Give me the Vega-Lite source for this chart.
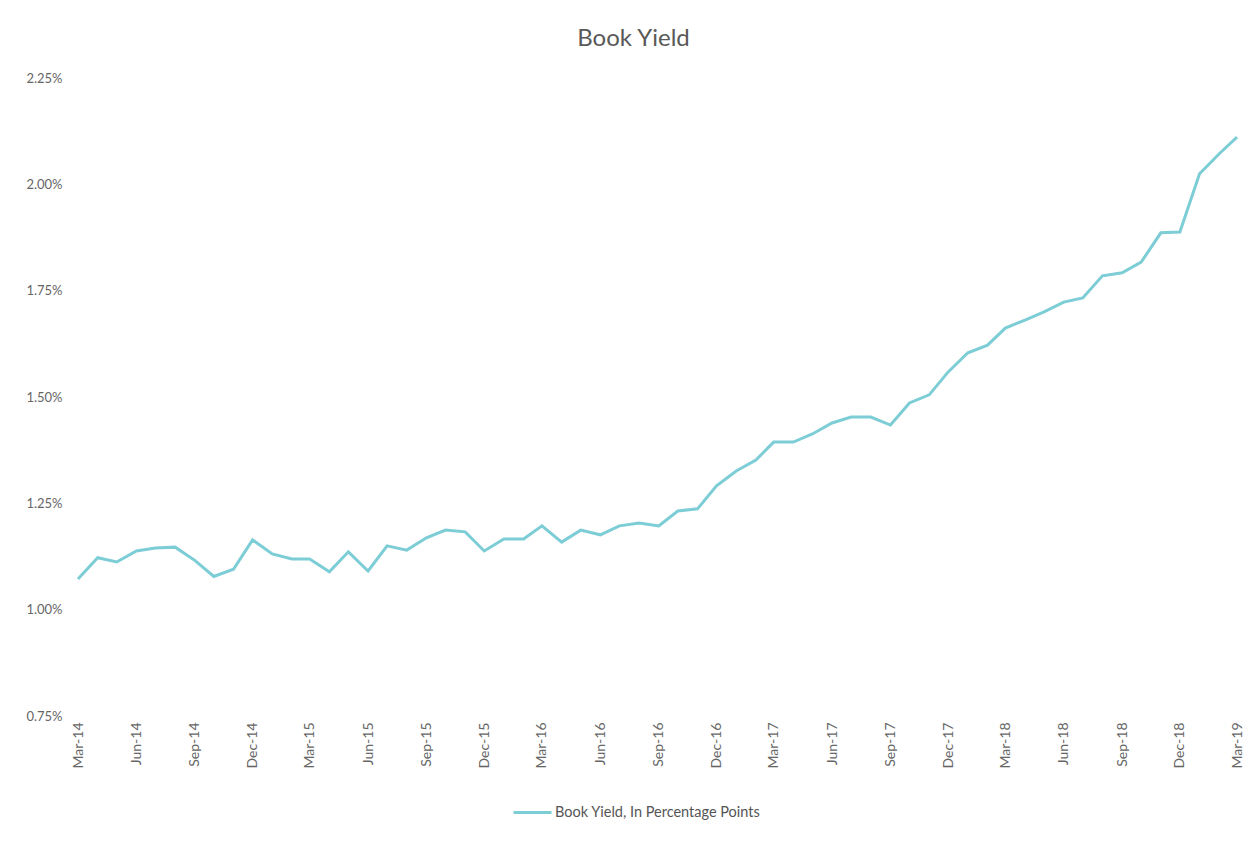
{
  "$schema": "https://vega.github.io/schema/vega-lite/v6.json",
  "width": 1159,
  "height": 638,
  "autosize": {"type": "none"},
  "padding": {"left": 78, "top": 78, "right": 23, "bottom": 126},
  "background": "white",
  "config": {
    "view": {"stroke": null},
    "font": "Lato"
  },
  "title": {
    "text": "Book Yield",
    "fontSize": 24,
    "fontWeight": "normal",
    "color": "#595959",
    "anchor": "middle",
    "dx": -24,
    "offset": 21
  },
  "data": {
    "values": [
      {"date": "2014-03-01", "yield": 1.072},
      {"date": "2014-04-01", "yield": 1.122},
      {"date": "2014-05-01", "yield": 1.112},
      {"date": "2014-06-01", "yield": 1.138},
      {"date": "2014-07-01", "yield": 1.145},
      {"date": "2014-08-01", "yield": 1.147},
      {"date": "2014-09-01", "yield": 1.116},
      {"date": "2014-10-01", "yield": 1.078},
      {"date": "2014-11-01", "yield": 1.095},
      {"date": "2014-12-01", "yield": 1.164},
      {"date": "2015-01-01", "yield": 1.131},
      {"date": "2015-02-01", "yield": 1.119},
      {"date": "2015-03-01", "yield": 1.119},
      {"date": "2015-04-01", "yield": 1.089},
      {"date": "2015-05-01", "yield": 1.136},
      {"date": "2015-06-01", "yield": 1.091},
      {"date": "2015-07-01", "yield": 1.150},
      {"date": "2015-08-01", "yield": 1.140},
      {"date": "2015-09-01", "yield": 1.169},
      {"date": "2015-10-01", "yield": 1.187},
      {"date": "2015-11-01", "yield": 1.183},
      {"date": "2015-12-01", "yield": 1.138},
      {"date": "2016-01-01", "yield": 1.166},
      {"date": "2016-02-01", "yield": 1.166},
      {"date": "2016-03-01", "yield": 1.197},
      {"date": "2016-04-01", "yield": 1.159},
      {"date": "2016-05-01", "yield": 1.187},
      {"date": "2016-06-01", "yield": 1.176},
      {"date": "2016-07-01", "yield": 1.197},
      {"date": "2016-08-01", "yield": 1.204},
      {"date": "2016-09-01", "yield": 1.197},
      {"date": "2016-10-01", "yield": 1.232},
      {"date": "2016-11-01", "yield": 1.237},
      {"date": "2016-12-01", "yield": 1.291},
      {"date": "2017-01-01", "yield": 1.326},
      {"date": "2017-02-01", "yield": 1.352},
      {"date": "2017-03-01", "yield": 1.394},
      {"date": "2017-04-01", "yield": 1.394},
      {"date": "2017-05-01", "yield": 1.413},
      {"date": "2017-06-01", "yield": 1.439},
      {"date": "2017-07-01", "yield": 1.453},
      {"date": "2017-08-01", "yield": 1.453},
      {"date": "2017-09-01", "yield": 1.434},
      {"date": "2017-10-01", "yield": 1.486},
      {"date": "2017-11-01", "yield": 1.505},
      {"date": "2017-12-01", "yield": 1.559},
      {"date": "2018-01-01", "yield": 1.604},
      {"date": "2018-02-01", "yield": 1.622},
      {"date": "2018-03-01", "yield": 1.662},
      {"date": "2018-04-01", "yield": 1.681},
      {"date": "2018-05-01", "yield": 1.700},
      {"date": "2018-06-01", "yield": 1.723},
      {"date": "2018-07-01", "yield": 1.733},
      {"date": "2018-08-01", "yield": 1.785},
      {"date": "2018-09-01", "yield": 1.792},
      {"date": "2018-10-01", "yield": 1.817},
      {"date": "2018-11-01", "yield": 1.886},
      {"date": "2018-12-01", "yield": 1.888},
      {"date": "2019-01-01", "yield": 2.025},
      {"date": "2019-02-01", "yield": 2.072},
      {"date": "2019-03-01", "yield": 2.111}
    ]
  },
  "mark": {"type": "line", "strokeWidth": 3, "interpolate": "linear"},
  "encoding": {
    "x": {
      "field": "date",
      "type": "temporal",
      "scale": {
        "type": "utc",
        "domain": [
          {"year": 2014, "month": 3, "date": 1, "utc": true},
          {"year": 2019, "month": 3, "date": 1, "utc": true}
        ],
        "nice": false
      },
      "axis": {
        "title": null,
        "values": [
          {"year": 2014, "month": 3, "date": 1, "utc": true},
          {"year": 2014, "month": 6, "date": 1, "utc": true},
          {"year": 2014, "month": 9, "date": 1, "utc": true},
          {"year": 2014, "month": 12, "date": 1, "utc": true},
          {"year": 2015, "month": 3, "date": 1, "utc": true},
          {"year": 2015, "month": 6, "date": 1, "utc": true},
          {"year": 2015, "month": 9, "date": 1, "utc": true},
          {"year": 2015, "month": 12, "date": 1, "utc": true},
          {"year": 2016, "month": 3, "date": 1, "utc": true},
          {"year": 2016, "month": 6, "date": 1, "utc": true},
          {"year": 2016, "month": 9, "date": 1, "utc": true},
          {"year": 2016, "month": 12, "date": 1, "utc": true},
          {"year": 2017, "month": 3, "date": 1, "utc": true},
          {"year": 2017, "month": 6, "date": 1, "utc": true},
          {"year": 2017, "month": 9, "date": 1, "utc": true},
          {"year": 2017, "month": 12, "date": 1, "utc": true},
          {"year": 2018, "month": 3, "date": 1, "utc": true},
          {"year": 2018, "month": 6, "date": 1, "utc": true},
          {"year": 2018, "month": 9, "date": 1, "utc": true},
          {"year": 2018, "month": 12, "date": 1, "utc": true},
          {"year": 2019, "month": 3, "date": 1, "utc": true}
        ],
        "format": "%b-%y",
        "labelAngle": -90,
        "labelFontSize": 14,
        "labelColor": "#666666",
        "labelPadding": 6,
        "labelOverlap": false,
        "labelFlush": false,
        "ticks": false,
        "domain": false,
        "grid": false
      }
    },
    "y": {
      "field": "yield",
      "type": "quantitative",
      "scale": {"domain": [0.75, 2.25], "nice": false, "zero": false},
      "axis": {
        "title": null,
        "values": [0.75, 1.0, 1.25, 1.5, 1.75, 2.0, 2.25],
        "labelExpr": "format(datum.value, '.2f') + '%'",
        "labelFontSize": 13,
        "labelColor": "#666666",
        "labelPadding": 16,
        "ticks": false,
        "domain": false,
        "grid": false
      }
    },
    "color": {
      "datum": "Book Yield, In Percentage Points",
      "type": "nominal",
      "scale": {"range": ["#7ccdd5"]},
      "legend": {
        "title": null,
        "orient": "none",
        "legendX": 434,
        "legendY": 714,
        "padding": 0,
        "symbolType": "stroke",
        "symbolSize": 1444,
        "symbolStrokeWidth": 3,
        "labelFontSize": 14.5,
        "labelLimit": 0,
        "labelColor": "#555555",
        "labelOffset": 2
      }
    }
  }
}
